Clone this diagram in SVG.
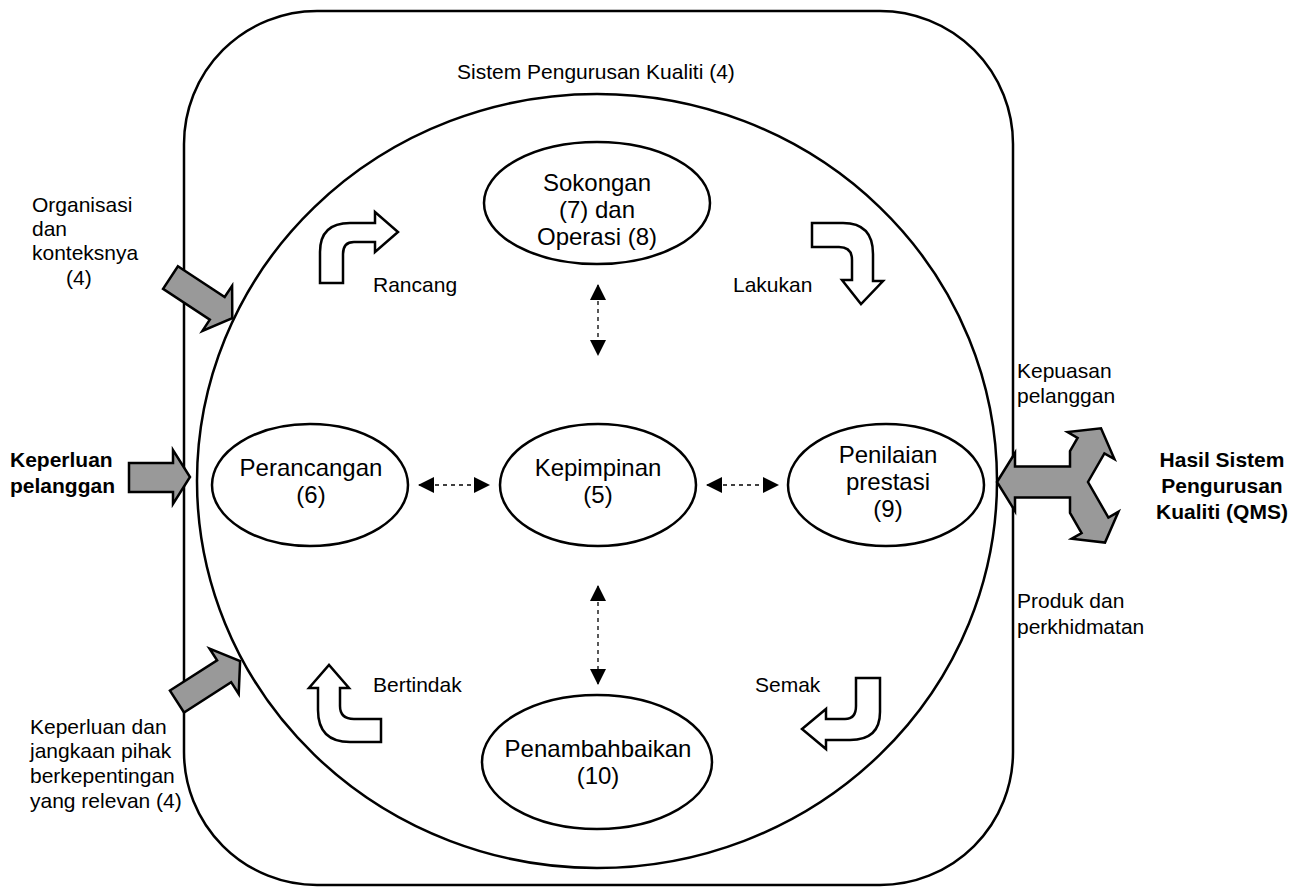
<svg xmlns="http://www.w3.org/2000/svg" width="1302" height="888" viewBox="0 0 1302 888">
<style>
.line{fill:none;stroke:#000;stroke-width:2.5}
.node{fill:#fff;stroke:#000;stroke-width:2.5}
.gray{fill:#999;stroke:#000;stroke-width:2.5;stroke-linejoin:miter}
.hollow{fill:#fff;stroke:#000;stroke-width:2.5;stroke-linejoin:miter}
.dash{fill:none;stroke:#000;stroke-width:1.3;stroke-dasharray:4 4}
.t{font-family:"Liberation Sans",Arial,sans-serif;font-size:21px;fill:#000}
.b{font-weight:bold}
.n{font-family:"Liberation Sans",Arial,sans-serif;font-size:24px;fill:#000;text-anchor:middle}
</style>
<defs>
<marker id="ah" markerUnits="userSpaceOnUse" markerWidth="16" markerHeight="16" viewBox="0 0 16 16" refX="15" refY="8" orient="auto-start-reverse">
<path d="M0,0 L16,8 L0,16 Z" fill="#000"/>
</marker>
</defs>
<rect id="qms-frame" x="184" y="11" width="829" height="874" rx="133" ry="133" class="line"/>
<ellipse id="cycle" cx="597" cy="481" rx="400" ry="387" class="line"/>
<text class="t" x="457" y="79">Sistem Pengurusan Kualiti (4)</text>

<g id="node-sokongan">
<ellipse cx="597" cy="203" rx="113" ry="61" class="node"/>
<text class="n" x="597" y="191">Sokongan</text>
<text class="n" x="597" y="218">(7) dan</text>
<text class="n" x="597" y="245">Operasi (8)</text>
</g>
<g id="node-perancangan">
<ellipse cx="310" cy="485" rx="98" ry="61" class="node"/>
<text class="n" x="311" y="476">Perancangan</text>
<text class="n" x="311" y="503">(6)</text>
</g>
<g id="node-kepimpinan">
<ellipse cx="598" cy="485" rx="98" ry="61" class="node"/>
<text class="n" x="598" y="476">Kepimpinan</text>
<text class="n" x="598" y="503">(5)</text>
</g>
<g id="node-penilaian">
<ellipse cx="886" cy="485" rx="98" ry="61" class="node"/>
<text class="n" x="888" y="463">Penilaian</text>
<text class="n" x="888" y="490">prestasi</text>
<text class="n" x="888" y="517">(9)</text>
</g>
<g id="node-penambahbaikan">
<ellipse cx="597" cy="762" rx="115" ry="67" class="node"/>
<text class="n" x="598" y="757">Penambahbaikan</text>
<text class="n" x="598" y="784">(10)</text>
</g>

<g id="connectors">
<line class="dash" x1="419" y1="485" x2="489" y2="485" marker-start="url(#ah)" marker-end="url(#ah)"/>
<line class="dash" x1="707" y1="485" x2="778" y2="485" marker-start="url(#ah)" marker-end="url(#ah)"/>
<line class="dash" x1="598" y1="285" x2="598" y2="355" marker-start="url(#ah)" marker-end="url(#ah)"/>
<line class="dash" x1="598" y1="586" x2="598" y2="684" marker-start="url(#ah)" marker-end="url(#ah)"/>
</g>

<g id="cycle-arrows">
<path class="hollow" d="M320,283 L320,252 Q320,223 350,223 L375,223 L375,212 L398,232 L375,252 L375,242 L354,242 Q343,242 343,254 L343,283 Z"/>
<path class="hollow" d="M812,223 L843,223 Q873,223 873,254 L873,281 L883,281 L861,304 L842,280 L852,280 L852,260 Q852,247 839,247 L812,247 Z"/>
<path class="hollow" d="M318,688 L309,688 L329,665 L349,688 L340,688 L340,706 Q340,719 354,719 L381,719 L381,742 L350,742 Q318,742 318,710 Z"/>
<path class="hollow" d="M856,678 L880,678 L880,712 Q880,740 850,740 L826,740 L826,749 L802,729 L826,709 L826,719 L845,719 Q856,719 856,706 Z"/>
<text class="t" x="373" y="292">Rancang</text>
<text class="t" x="733" y="292">Lakukan</text>
<text class="t" x="373" y="692">Bertindak</text>
<text class="t" x="755" y="692">Semak</text>
</g>

<g id="inputs">
<polygon class="gray" transform="translate(170.5,277.5) rotate(33.4)" points="0,-13.5 56,-13.5 56,-27 74,0 56,27 56,13.5 0,13.5"/>
<polygon class="gray" points="129,463 173,463 173,450 190,477 173,504 173,492 129,492"/>
<polygon class="gray" transform="translate(177,701.5) rotate(-32.7)" points="0,-13 56,-13 56,-27 75,0 56,27 56,13 0,13"/>
<text class="t" x="32" y="212">Organisasi</text>
<text class="t" x="32" y="236">dan</text>
<text class="t" x="32" y="260">konteksnya</text>
<text class="t" x="66" y="285">(4)</text>
<text class="t b" x="10" y="467">Keperluan</text>
<text class="t b" x="10" y="493">pelanggan</text>
<text class="t" x="30" y="734">Keperluan dan</text>
<text class="t" x="30" y="758">jangkaan pihak</text>
<text class="t" x="30" y="783">berkepentingan</text>
<text class="t" x="30" y="808">yang relevan (4)</text>
</g>

<g id="outputs">
<polygon class="gray" points="997,482 1015,453 1015,466.5 1070,466.5 1070,451 1077.6,437.9 1067.6,432.1 1101,428.3 1114.4,459.1 1104.4,453.4 1088,482 1108.4,517.6 1118.4,511.8 1105,542.6 1071.6,538.8 1081.6,533 1070,513 1070,497.5 1015,497.5 1015,511"/>
<text class="t" x="1017" y="378">Kepuasan</text>
<text class="t" x="1017" y="403">pelanggan</text>
<text class="t b" x="1222" y="467" text-anchor="middle">Hasil Sistem</text>
<text class="t b" x="1222" y="493" text-anchor="middle">Pengurusan</text>
<text class="t b" x="1222" y="519" text-anchor="middle">Kualiti (QMS)</text>
<text class="t" x="1017" y="608">Produk dan</text>
<text class="t" x="1017" y="634">perkhidmatan</text>
</g>
</svg>
